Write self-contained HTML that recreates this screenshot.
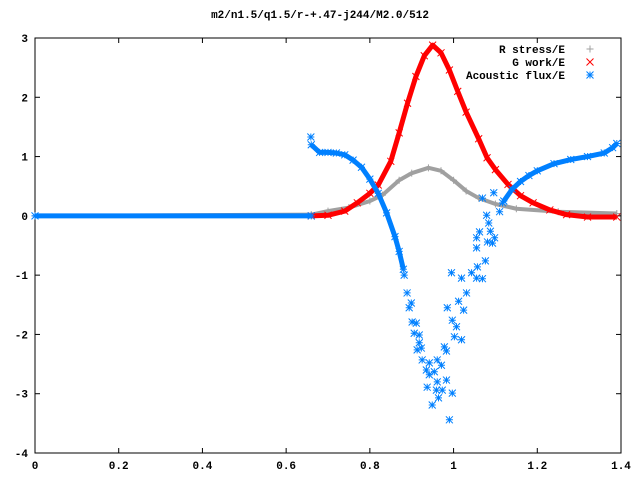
<!DOCTYPE html>
<html><head><meta charset="utf-8"><style>
body{margin:0;background:#fff}
text{font-family:"Liberation Mono",monospace;font-size:11px;font-weight:bold;fill:#000}
</style></head><body>
<svg id="chart" width="640" height="480" xmlns="http://www.w3.org/2000/svg">
<rect width="640" height="480" fill="#fff"/>
<text x="320" y="18" text-anchor="middle">m2/n1.5/q1.5/r-+.47-j244/M2.0/512</text>
<g id="axes"></g>
<g id="series"></g>
<g id="legend"></g>
</svg>
<script>
const xTicks=[0,0.2,0.4,0.6,0.8,1,1.2,1.4];
const xTickLabels=["0","0.2","0.4","0.6","0.8","1","1.2","1.4"];
const yTicks=[-4,-3,-2,-1,0,1,2,3];
const rX=[0,0.66,0.70,0.75,0.80,0.83,0.87,0.90,0.94,0.97,1.00,1.03,1.06,1.10,1.15,1.25,1.39];
const rY=[0,0.02,0.08,0.14,0.25,0.35,0.6,0.72,0.81,0.76,0.6,0.42,0.3,0.2,0.12,0.07,0.04];
const gX=[0.66,0.70,0.74,0.77,0.80,0.82,0.85,0.87,0.89,0.91,0.93,0.95,0.97,0.99,1.01,1.03,1.06,1.08,1.10,1.13,1.16,1.19,1.23,1.27,1.32,1.39];
const gY=[0,0.01,0.08,0.22,0.38,0.52,0.92,1.4,1.9,2.35,2.7,2.88,2.75,2.46,2.1,1.75,1.3,0.98,0.78,0.53,0.34,0.22,0.1,0.02,-0.02,-0.02];
const aZeroX=[0,0.66];
const aZeroY=[0,0];
const aLeftX=[0.66,0.68,0.70,0.72,0.74,0.76,0.78,0.80,0.82,0.84,0.86,0.87,0.88];
const aLeftY=[1.2,1.07,1.07,1.06,1.03,0.94,0.82,0.62,0.38,0.05,-0.35,-0.6,-0.9];
const aRightX=[1.12,1.14,1.16,1.18,1.20,1.24,1.28,1.32,1.36,1.38,1.39];
const aRightY=[0.25,0.45,0.58,0.68,0.76,0.88,0.95,1.0,1.06,1.15,1.22];
const aScatX=[0.659,0.882,0.889,0.899,0.894,0.901,0.911,0.906,0.918,0.918,0.923,0.913,0.925,0.942,0.935,0.954,0.961,0.971,0.942,0.961,0.983,0.937,0.959,0.973,0.997,0.964,0.949,0.990,0.978,0.983,0.985,1.012,1.024,1.031,0.997,1.007,1.002,1.019,0.995,1.019,1.043,1.055,1.069,1.076,1.057,1.055,1.062,1.055,1.081,1.093,1.098,1.088,1.084,1.079,1.069,1.096,1.110,1.117];
const aScatY=[1.33,-1.00,-1.30,-1.47,-1.55,-1.79,-1.81,-1.98,-2.01,-2.14,-2.23,-2.26,-2.43,-2.48,-2.60,-2.63,-2.43,-2.52,-2.68,-2.80,-2.77,-2.89,-2.94,-2.94,-2.99,-3.07,-3.19,-3.44,-2.21,-2.28,-1.55,-1.44,-1.59,-1.30,-1.76,-1.87,-2.04,-2.09,-0.96,-1.05,-0.96,-1.05,-1.06,-0.76,-0.86,-0.54,-0.27,-0.37,-0.44,-0.46,-0.37,-0.26,-0.12,0.01,0.30,0.39,0.07,0.22];
const L=35,R=621,T=38,B=453;
const sx=v=>L+(v-0)/1.4*(R-L);
const sy=v=>T+(3-v)/7*(B-T);
const NS="http://www.w3.org/2000/svg";
function mk(tag,parent,attrs){const e=document.createElementNS(NS,tag);for(const k in attrs)e.setAttribute(k,attrs[k]);parent.appendChild(e);return e;}
const axes=document.getElementById('axes');
const frame=mk('rect',axes,{x:L,y:T,width:R-L,height:B-T,fill:'none',stroke:'#000','stroke-width':1});


xTicks.forEach((v,i)=>{const x=sx(v);
 mk('line',axes,{x1:x,y1:B,x2:x,y2:B-5,stroke:'#000'});
 mk('line',axes,{x1:x,y1:T,x2:x,y2:T+5,stroke:'#000'});
 const t=mk('text',axes,{x:x,y:B+16,'text-anchor':'middle'});t.textContent=xTickLabels[i];
 
 });
yTicks.forEach(v=>{const y=sy(v);
 mk('line',axes,{x1:L,y1:y,x2:L+5,y2:y,stroke:'#000'});
 mk('line',axes,{x1:R,y1:y,x2:R-5,y2:y,stroke:'#000'});
 const t=mk('text',axes,{x:L-7,y:y+4,'text-anchor':'end'});t.textContent=String(v);
 
 });
const ser=document.getElementById('series');
function marker(g,type,x,y,col){
 const s=3.5;
 if(type==='plus'){mk('path',g,{d:`M${x-s} ${y}H${x+s}M${x} ${y-s}V${y+s}`,stroke:col,'stroke-width':1});}
 else if(type==='x'){mk('path',g,{d:`M${x-s} ${y-s}L${x+s} ${y+s}M${x-s} ${y+s}L${x+s} ${y-s}`,stroke:col,'stroke-width':1});}
 else {mk('path',g,{d:`M${x-s} ${y}H${x+s}M${x} ${y-s}V${y+s}M${x-s} ${y-s}L${x+s} ${y+s}M${x-s} ${y+s}L${x+s} ${y-s}`,stroke:col,'stroke-width':1});}
}
function drawSeries(name,xs,ys,col,type,band){
 const g=mk('g',ser,{});
 
 
 if(band){mk('polyline',g,{points:xs.map((v,i)=>sx(v)+','+sy(ys[i])).join(' '),fill:'none',stroke:col,'stroke-width':band,'stroke-linejoin':'round'});}
 xs.forEach((v,i)=>marker(g,type,sx(v),sy(ys[i]),col));
}
drawSeries('r-stress-series',rX,rY,'#a0a0a0','plus',4);
drawSeries('g-work-series',gX,gY,'#ff0000','x',5);
drawSeries('acoustic-zero-segment',aZeroX,aZeroY,'#0080ff','star',5);
drawSeries('acoustic-left-branch',aLeftX,aLeftY,'#0080ff','star',5);
drawSeries('acoustic-right-branch',aRightX,aRightY,'#0080ff','star',5);
drawSeries('acoustic-scatter',aScatX,aScatY,'#0080ff','star',0);
const lg=document.getElementById('legend');
const entries=[["R stress/E","#a0a0a0","plus"],["G work/E","#ff0000","x"],["Acoustic flux/E","#0080ff","star"]];
entries.forEach((e,i)=>{const y=49+i*13;
 const g=mk('g',lg,{});
 
 
 const t=mk('text',g,{x:565,y:y+4,'text-anchor':'end'});t.textContent=e[0];
 marker(g,e[2],590,y,e[1]);});
</script>
</body></html>
